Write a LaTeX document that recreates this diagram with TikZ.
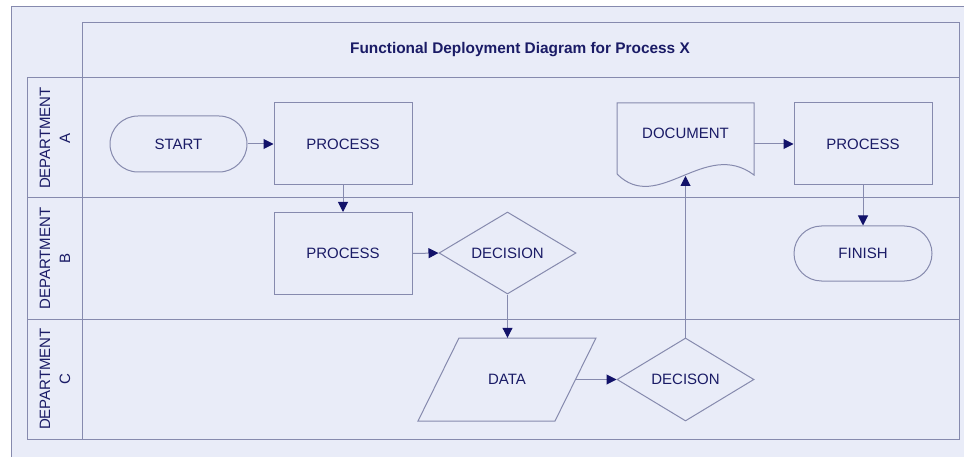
\documentclass[tikz,border=0pt]{standalone}
\usepackage{fontspec}
\setmainfont{Liberation Sans}
\usetikzlibrary{arrows.meta,shapes.geometric,shapes.misc}
\definecolor{bgpanel}{HTML}{E9ECF8}
\definecolor{lnc}{HTML}{868AAE}
\definecolor{txc}{HTML}{1A1B66}
\definecolor{arc}{HTML}{12126A}
\tikzset{
  frameline/.style={draw=lnc, line width=1pt},
  txt/.style={text=txc, font=\fontsize{15}{20}\selectfont},
  procbox/.style={txt, draw=lnc, line width=1pt, rectangle, minimum width=138pt, minimum height=82pt, inner sep=0pt},
  termbox/.style={txt, draw=lnc, line width=1pt, rounded rectangle, minimum width=138pt, minimum height=56pt, inner sep=0pt},
  decbox/.style={txt, draw=lnc, line width=1pt, diamond, aspect=1.67, minimum width=137pt, minimum height=82pt, inner sep=0pt},
  ghost/.style={txt, rectangle, minimum width=137pt, minimum height=82pt, inner sep=0pt},
  deptlabel/.style={txt, rotate=90, align=center},
  flow/.style={draw=lnc, line width=1pt, -{Triangle[length=10pt,width=10pt,color=arc]}},
}
\begin{document}
\begin{tikzpicture}[x=1pt,y=-1pt]
\useasboundingbox (0,0) rectangle (964,457);
\fill[white] (0,0) rectangle (964,457);
\fill[bgpanel] (11,7) rectangle (964,457);
\draw[frameline] (11,457) -- (11,7) -- (964,7);
% table frame
\draw[frameline] (82,78) -- (82,23) -- (959,23) -- (959,78);
\draw[frameline] (27,78) rectangle (959,439);
\draw[frameline] (27,198) -- (959,198);
\draw[frameline] (27,319) -- (959,319);
\draw[frameline] (82,78) -- (82,439);
\node[txt, font=\fontsize{15.4}{20}\selectfont\bfseries] (title) at (520,50) {Functional Deployment Diagram for Process X};
% lane labels
\node[deptlabel] (dA) at (55,138) {DEPARTMENT\\A};
\node[deptlabel] (dB) at (55,258.5) {DEPARTMENT\\B};
\node[deptlabel] (dC) at (55,379) {DEPARTMENT\\C};
% shapes
\node[termbox, minimum width=137pt] (start) at (178.5,144) {START};
\node[procbox] (procA) at (343,144) {PROCESS};
\node[procbox] (procB) at (343,253.5) {PROCESS};
\node[decbox] (dec) at (507.5,253) {DECISION};
% data parallelogram
\draw[draw=lnc, line width=1pt] (459,338) -- (596,338) -- (555,421) -- (418,421) -- cycle;
\node[ghost, minimum height=83pt] (data) at (507,379.5) {DATA};
\node[decbox, minimum height=83pt] (decison) at (685.5,379.5) {DECISON};
% document
\draw[draw=lnc, line width=1pt] (617,174) -- (617,103) -- (754,103) -- (754,175)
  .. controls (705,138) and (658,215) .. (617,174);
\node[ghost, label={[txt, yshift=11pt]center:DOCUMENT}] (doc) at (685.5,144) {};
\coordinate (docin) at (685.5,176);
\node[procbox] (procA2) at (863,144) {PROCESS};
\node[termbox, minimum height=55pt] (finish) at (863,253.5) {FINISH};
% connectors
\draw[flow] (start.east) -- (procA.west);
\draw[flow] (procA.south) -- (procB.north);
\draw[flow] (procB.east) -- (dec.west);
\draw[flow] (dec.south) -- (dec.south |- data.north);
\draw[flow] (data.east) -- (decison.west);
\draw[flow] (decison.north) -- (docin);
\draw[flow] (doc.east) -- (procA2.west);
\draw[flow] (procA2.south) -- (finish.north);
\end{tikzpicture}
\end{document}
